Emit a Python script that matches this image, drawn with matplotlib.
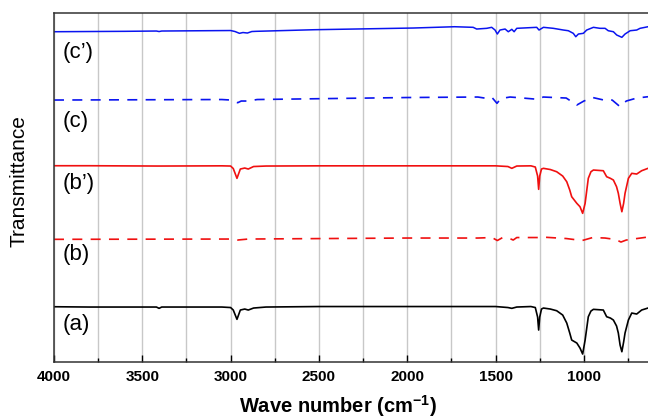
import numpy as np
import matplotlib
matplotlib.use('Agg')
from matplotlib import pyplot as plt
from matplotlib.ticker import MultipleLocator

plt.rcParams['font.family'] = ['Liberation Sans', 'DejaVu Sans']
plt.rcParams['mathtext.fontset'] = 'custom'
plt.rcParams['mathtext.rm'] = 'Liberation Sans'
plt.rcParams['mathtext.bf'] = 'Liberation Sans:bold'

# wave numbers shared by traces (a) and (b')
wn_ab = [4000, 3800, 3420, 3405, 3390, 3050, 3000, 2985, 2964, 2945, 2920, 2900, 2870, 2800,
         2500, 2000, 1500, 1430, 1408, 1380, 1300, 1275, 1262, 1256, 1250, 1240, 1229, 1190,
         1154, 1120, 1097, 1080, 1069, 1040, 1022, 1007, 993, 975, 960, 946, 890, 871, 850,
         833, 815, 805, 795, 785, 775, 767, 748, 729, 701, 673, 637]
trace_a = [5.53, 5.5, 5.5, 5.37, 5.5, 5.5, 5.45, 5.2, 4.27, 5.2, 5.3, 5.2, 5.4, 5.5,
           5.55, 5.55, 5.55, 5.45, 5.37, 5.5, 5.55, 5.45, 4.5, 3.2, 4.5, 5.3, 5.4, 5.3,
           5.13, 4.7, 3.9, 2.9, 2.2, 1.9, 1.4, 0.8, 2.2, 4.53, 5.1, 5.27, 5.2, 4.53, 4.4,
           4.2, 3.6, 2.9, 1.7, 1.03, 2.0, 2.9, 4.2, 4.9, 4.8, 5.2, 5.4]
trace_b2 = [19.63, 19.63, 19.6, 19.6, 19.6, 19.62, 19.6, 19.35, 18.37, 19.3, 19.4, 19.3, 19.55, 19.6,
            19.62, 19.62, 19.62, 19.55, 19.37, 19.6, 19.62, 19.5, 18.6, 17.27, 18.6, 19.3, 19.37, 19.25,
            19.03, 18.6, 18.03, 17.2, 16.53, 15.87, 15.53, 14.87, 15.87, 18.37, 19.03, 19.2, 19.13, 18.53, 18.37,
            18.2, 17.53, 16.87, 15.87, 15.03, 15.87, 16.87, 18.37, 18.87, 18.8, 19.13, 19.37]

wn_b = [4000, 3000, 2960, 2900, 2000, 1600, 1520, 1490, 1460, 1420, 1400, 1380, 1260, 1240,
        1100, 1010, 950, 880, 820, 790, 760, 700, 637]
trace_b = [12.27, 12.3, 12.2, 12.3, 12.4, 12.4, 12.45, 12.15, 12.45, 12.35, 12.2, 12.45, 12.45, 12.5,
           12.35, 12.15, 12.45, 12.4, 12.25, 12.0, 12.2, 12.35, 12.5]

wn_c = [4000, 3050, 3000, 2960, 2940, 2900, 2850, 2000, 1600, 1545, 1520, 1492, 1470, 1418,
        1380, 1260, 1230, 1100, 1040, 1000, 950, 870, 840, 795, 760, 700, 637]
trace_c = [26.2, 26.25, 26.2, 25.93, 26.1, 26.1, 26.25, 26.45, 26.5, 26.35, 26.45, 25.87, 26.35, 26.5,
           26.45, 26.27, 26.5, 26.4, 25.7, 26.1, 26.45, 26.13, 26.2, 25.53, 26.1, 26.4, 26.53]

wn_c2 = [4000, 3600, 3420, 3405, 3390, 3000, 2975, 2950, 2930, 2905, 2880, 2856, 2528, 1967,
         1732, 1627, 1607, 1550, 1522, 1503, 1490, 1475, 1446, 1428, 1408, 1395, 1380, 1267,
         1254, 1229, 1173, 1116, 1088, 1060, 1046, 1031, 1003, 984, 946, 909, 880, 862, 833,
         814, 785, 767, 738, 701, 682, 637]
trace_c2 = [33.03, 33.07, 33.1, 33.05, 33.1, 33.15, 33.05, 32.87, 32.95, 32.9, 33.05, 33.07, 33.23, 33.4,
            33.53, 33.47, 33.3, 33.37, 33.47, 33.2, 32.8, 33.2, 33.3, 33.03, 33.27, 33.03, 33.37, 33.47,
            33.2, 33.47, 33.37, 33.2, 33.13, 32.87, 32.53, 32.8, 32.87, 33.2, 33.47, 33.37, 33.37, 33.13, 33.03,
            32.7, 32.47, 32.8, 33.13, 33.2, 33.37, 33.53]

labels = ["(c\u2019)", "(c)", "(b\u2019)", "(b)", "(a)"]
label_y = [31.0, 24.1, 17.9, 10.8, 3.8]

fig = plt.figure(figsize=(6.48, 4.2), dpi=100)
ax = fig.add_axes([0.0833, 0.138, 0.9167, 0.8317])

blue = '#0a14f0'
red = '#f01010'
ax.plot(wn_c2, trace_c2, color=blue, lw=1.1)
ax.plot(wn_c, trace_c, color=blue, lw=1.2, dashes=(6, 5))
ax.plot(wn_ab, trace_b2, color=red, lw=1.2)
ax.plot(wn_b, trace_b, color=red, lw=1.2, dashes=(6, 5))
ax.plot(wn_ab, trace_a, color='black', lw=1.2)

for lab, yy in zip(labels, label_y):
    ax.text(3950, yy, lab, fontsize=16, ha='left', va='center')

ax.set_xlim(4000, 637)
ax.set_ylim(0, 34.93)
ax.xaxis.set_major_locator(MultipleLocator(500))
ax.xaxis.set_minor_locator(MultipleLocator(250))
ax.grid(True, which='both', axis='x', color='#c8c8c8', lw=1.0)
ax.set_axisbelow(True)
ax.set_yticks([])
ax.tick_params(axis='x', which='major', direction='in', length=5, width=1, labelsize=11, pad=6)
ax.tick_params(axis='x', which='minor', direction='in', length=3, width=1)
for t in ax.get_xticklabels():
    t.set_fontweight('bold')
ax.spines['right'].set_visible(False)
for s in ['left', 'top', 'bottom']:
    ax.spines[s].set_color('#333333')
    ax.spines[s].set_linewidth(1.1)

fig.text(0.522, 0.033, r'Wave number (cm$^{\mathbf{-1}}$)', fontsize=14.5, fontweight='bold',
         ha='center', va='center')
fig.text(0.029, 0.569, 'Transmittance', fontsize=15, rotation=90, ha='center', va='center')

fig.savefig('out.png', dpi=100)
